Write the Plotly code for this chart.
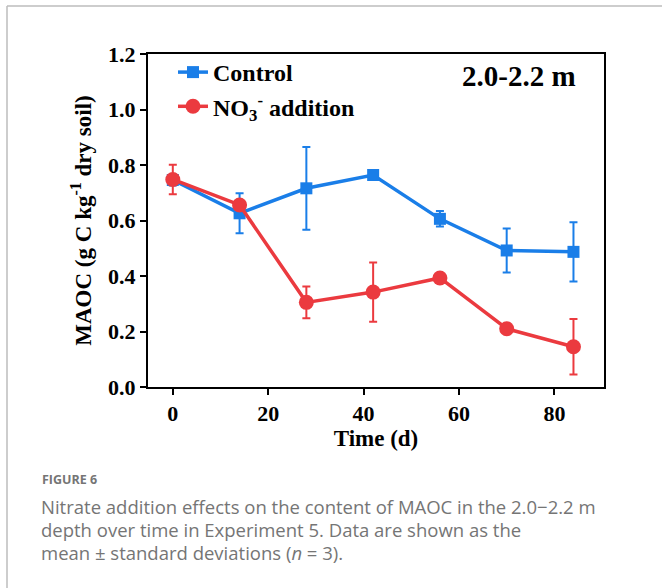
import plotly.graph_objects as go

days = [0, 14, 28, 42, 56, 70, 84]
control = [0.746, 0.626, 0.716, 0.764, 0.606, 0.492, 0.487]
control_sd = [0.02, 0.072, 0.149, 0.012, 0.028, 0.079, 0.107]
nitrate = [0.748, 0.656, 0.305, 0.342, 0.393, 0.210, 0.145]
nitrate_sd = [0.053, 0.015, 0.057, 0.107, 0.012, 0.012, 0.100]
x_ticks = [0, 20, 40, 60, 80]
y_ticks = [0.0, 0.2, 0.4, 0.6, 0.8, 1.0, 1.2]

BLUE = "#1a7ee8"
RED = "#eb3a3f"
SERIF = "Liberation Serif"

L, R, T, B = 148, 604, 54, 387
W, H = 662, 588


def px(xp):
    return (xp - L) / (R - L)


def py(yp):
    return (B - yp) / (B - T)


fig = go.Figure()
fig.add_trace(go.Scatter(
    x=days, y=control, name="Control", mode="lines+markers",
    line=dict(color=BLUE, width=3.5),
    marker=dict(symbol="square", size=12, color=BLUE),
    error_y=dict(type="data", array=control_sd, color=BLUE, thickness=2, width=4),
))
fig.add_trace(go.Scatter(
    x=days, y=nitrate, name="NO<sub>3</sub><sup>-</sup> addition", mode="lines+markers",
    line=dict(color=RED, width=3.5),
    marker=dict(symbol="circle", size=15, color=RED),
    error_y=dict(type="data", array=nitrate_sd, color=RED, thickness=2, width=4),
))

fig.update_layout(
    width=W, height=H,
    margin=dict(l=L, r=W - R, t=T, b=H - B),
    paper_bgcolor="white", plot_bgcolor="white",
    showlegend=True,
    legend=dict(
        x=px(173), y=py(50), xanchor="left", yanchor="top",
        bgcolor="rgba(0,0,0,0)",
        font=dict(family=SERIF, size=24, color="black", weight="bold"),
        itemwidth=30, tracegroupgap=0,
    ),
    xaxis=dict(
        range=[-5.2, 90.4], tickvals=x_ticks, ticks="outside", ticklen=6,
        tickwidth=2, tickcolor="black", showgrid=False, zeroline=False,
        showline=True, linecolor="black", linewidth=2, mirror=True,
        tickfont=dict(family=SERIF, size=22, color="black", weight="bold"),
        title=dict(text="Time (d)", font=dict(family=SERIF, size=23, color="black", weight="bold"), standoff=1),
    ),
    yaxis=dict(
        range=[0, 1.2], tickvals=y_ticks, tickformat=".1f", ticks="outside", ticklen=6,
        tickwidth=2, tickcolor="black", showgrid=False, zeroline=False,
        showline=True, linecolor="black", linewidth=2, mirror=True,
        tickfont=dict(family=SERIF, size=22, color="black", weight="bold"),
        title=dict(text="MAOC (g C kg<sup>-1</sup> dry soil)",
                   font=dict(family=SERIF, size=23, color="black", weight="bold"), standoff=10),
    ),
)

fig.add_annotation(
    x=px(519), y=py(76), xref="paper", yref="paper", xanchor="center", yanchor="middle",
    text="<b>2.0-2.2 m</b>",
    showarrow=False, font=dict(family=SERIF, size=29, color="black"),
)

CAP = "#757575"
CAPFONT = "Open Sans"
fig.add_annotation(
    x=px(40), y=py(479), xref="paper", yref="paper", xanchor="left", yanchor="middle",
    text="FIGURE 6", showarrow=False,
    font=dict(family=CAPFONT, size=12.5, color=CAP, weight="bold"),
)
lines = [
    "Nitrate addition effects on the content of MAOC in the 2.0\u22122.2 m",
    "depth over time in Experiment 5. Data are shown as the",
    "mean \u00b1 standard deviations (<i>n</i> = 3).",
]
for i, t in enumerate(lines):
    fig.add_annotation(
        x=px(39), y=py(507 + 22.5 * i), xref="paper", yref="paper",
        xanchor="left", yanchor="middle", text=t, showarrow=False,
        font=dict(family=CAPFONT, size=18.5, color=CAP),
    )

# outer frame of the figure panel
fig.add_shape(type="line", xref="paper", yref="paper",
              x0=px(7), y0=py(6), x1=px(700), y1=py(6),
              line=dict(color="#bdbdbd", width=1.5))
fig.add_shape(type="line", xref="paper", yref="paper",
              x0=px(7), y0=py(6), x1=px(7), y1=py(640),
              line=dict(color="#bdbdbd", width=1.5))

fig.write_html("out.html")
